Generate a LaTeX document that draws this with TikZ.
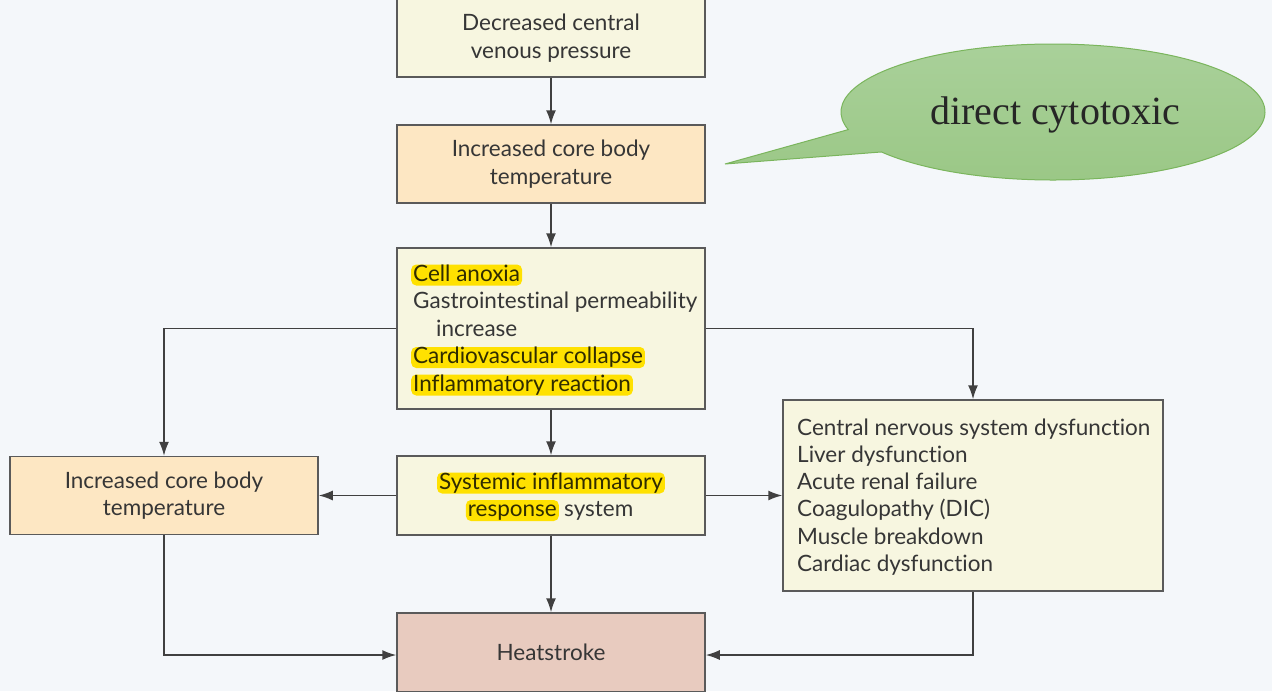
\documentclass[tikz,border=0pt]{standalone}
\usepackage{fontspec}
\setmainfont{Lato}[Ligatures=NoCommon]
\newfontfamily\calloutfont{Liberation Serif}
\usetikzlibrary{arrows.meta,shapes.geometric,calc}
\definecolor{bgc}{HTML}{F4F7FA}
\definecolor{yelbox}{HTML}{F7F6E0}
\definecolor{orbox}{HTML}{FDE7C3}
\definecolor{hsbox}{HTML}{E8CBBF}
\definecolor{bordc}{HTML}{5A5A5A}
\definecolor{txtc}{HTML}{363636}
\definecolor{hltxt}{HTML}{302C00}
\definecolor{hlc}{HTML}{FFE100}
\definecolor{arrc}{HTML}{404040}
\definecolor{gtop}{HTML}{AAD19B}
\definecolor{gbot}{HTML}{9AC785}
\definecolor{gline}{HTML}{7AB55C}
\begin{document}
\begin{tikzpicture}[x=1pt,y=-1pt,
  box/.style={draw=bordc,line width=1.5pt,minimum width=308pt,minimum height=78pt,
    inner sep=0pt,align=center,text=txtc,font=\fontsize{22.5}{27.5}\selectfont},
  ybox/.style={box,fill=yelbox},
  obox/.style={box,fill=orbox},
  arr/.style={draw=arrc,line width=1.5pt,-{Latex[length=14pt,width=10pt]}},
  ln/.style={anchor=base west,inner xsep=2pt,inner ysep=1.5pt,text=txtc,
    font=\fontsize{22.5}{27}\selectfont},
  hl/.style={ln,fill=hlc,rounded corners=5pt,text=hltxt,text height=15pt,text depth=3pt}
]
\useasboundingbox[fill=bgc] (0,0) rectangle (1272,691);

% boxes
\node[ybox] (b1) at (551,38) {Decreased central\\venous pressure};
\node[obox] (b2) at (551,164) {Increased core body\\temperature};
\node[ybox,minimum height=161pt] (b3) at (551,328.5) {};
\node[obox] (b4) at (164,495.5) {Increased core body\\temperature};
\node[ybox,minimum height=79pt] (b5) at (551,495.5) {};
\node[ybox,minimum width=380pt,minimum height=191pt] (b6) at (973,495.5) {};
\node[box,fill=hsbox,minimum height=79pt] (hs) at (551,652.5) {Heatstroke};

% box 3 text
\node[hl] (t1) at (411,281) {Cell anoxia};
\node[ln] (t2) at (411,308.5) {Gastrointestinal permeability};
\node[ln] (t3) at (434,336) {increase};
\node[hl] (t4) at (411,363.5) {Cardiovascular collapse};
\node[hl] (t5) at (411,391) {Inflammatory reaction};

% box 5 text
\node[hl,anchor=base] (s1) at (551,489) {Systemic inflammatory};
\node[hl,anchor=base east] (s2) at (559,516.5) {response};
\node[ln] (s3) at (562,516.5) {system};

% box 6 text
\node[ln] (r1) at (795,435) {Central nervous system dysfunction};
\node[ln] (r2) at (795,462.3) {Liver dysfunction};
\node[ln] (r3) at (795,489.6) {Acute renal failure};
\node[ln] (r4) at (795,516.9) {Coagulopathy (DIC)};
\node[ln] (r5) at (795,544.2) {Muscle breakdown};
\node[ln] (r6) at (795,571.5) {Cardiac dysfunction};

% connectors
\draw[arr] (b1.south) -- (b2.north);
\draw[arr] (b2.south) -- (b3.north);
\draw[arr] (b3.west) -| (b4.north);
\draw[arr] (b3.east) -| (b6.north);
\draw[arr] (b3.south) -- (b5.north);
\draw[arr] (b5.west) -- (b4.east);
\draw[arr] (b5.east) -- (b6.west);
\draw[arr] (b5.south) -- (hs.north);
\draw[arr] (b4.south) |- ($(hs.west)+(0,2.5)$);
\draw[arr] (b6.south) |- ($(hs.east)+(0,2.5)$);

% callout
\coordinate (cc) at (1053,112);
\coordinate (tip) at (725,164);
\draw[draw=gline,line width=1pt,top color=gtop,bottom color=gbot]
  (cc) ++(144:212 and 68) arc[start angle=144,end angle=-195,x radius=212,y radius=68]
  -- (tip) -- cycle;
\node[font=\calloutfont\fontsize{40}{44}\selectfont,text=black!85] (ct) at (1055,115) {direct cytotoxic};
\end{tikzpicture}
\end{document}
